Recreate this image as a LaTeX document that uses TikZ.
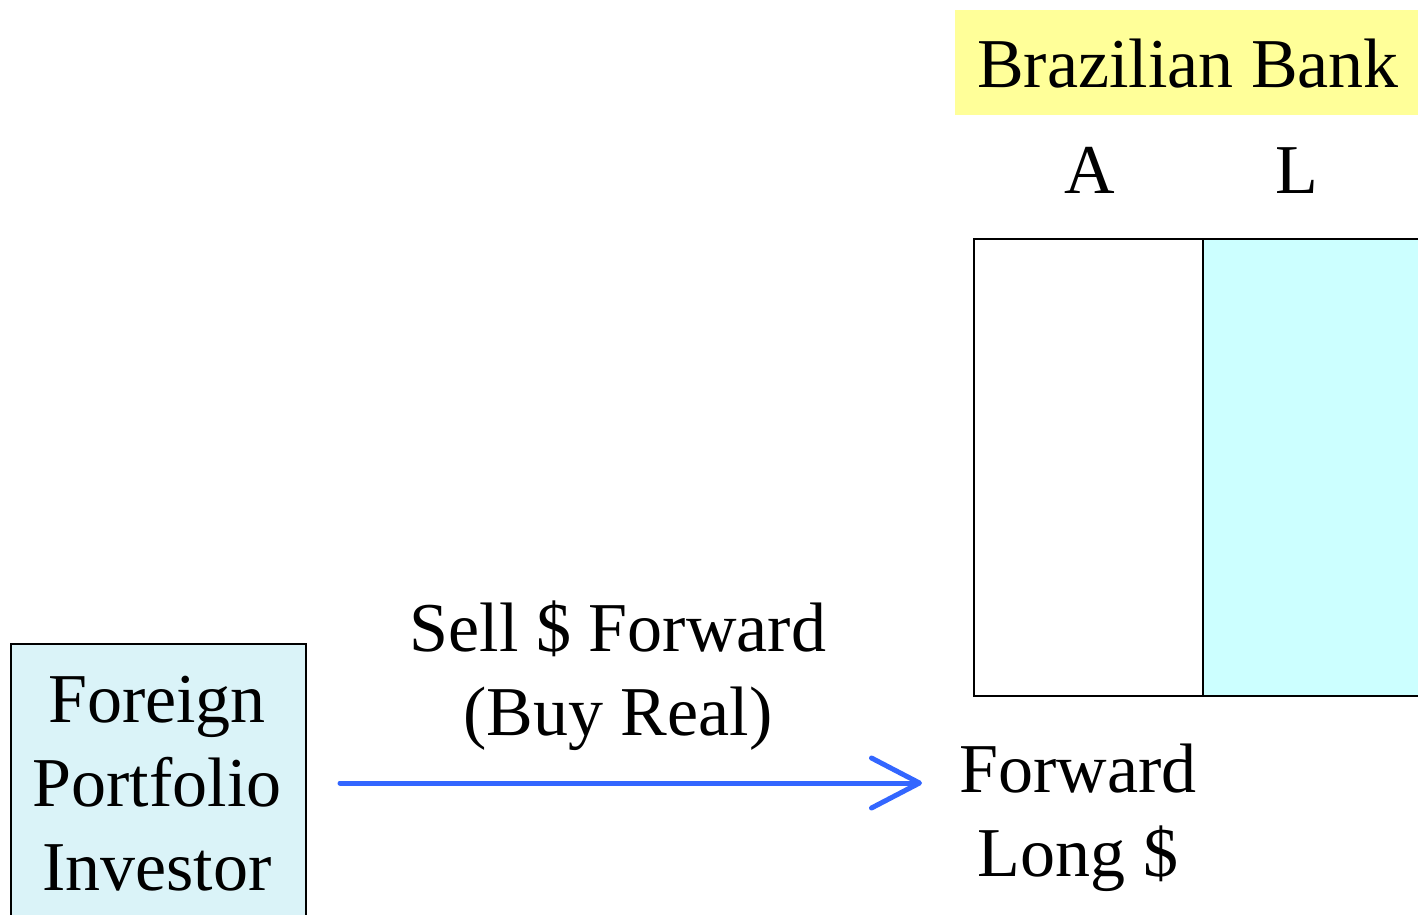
\documentclass[tikz,border=0pt]{standalone}
\usepackage{fontspec}
\setmainfont{Liberation Serif}
\usetikzlibrary{arrows.meta}
\definecolor{bankyellow}{HTML}{FFFF99}
\definecolor{liabcyan}{HTML}{CCFFFF}
\definecolor{investorfill}{HTML}{DAF3F8}
\definecolor{flowblue}{HTML}{3366FF}
\tikzset{
  big/.style={font=\fontsize{70}{84}\selectfont, inner sep=0pt, align=center},
  sheet/.style={draw=black, line width=2pt, rectangle, inner sep=0pt},
  flow/.style={draw=flowblue, line width=5pt, line cap=round,
    -{Straight Barb[length=48pt,width=50pt,line cap=round,line join=round]}},
}
\begin{document}
\begin{tikzpicture}[x=1pt,y=-1pt]
  \useasboundingbox (0,0) rectangle (1418,915);

  % bank title
  \fill[bankyellow] (955,10) rectangle (1418,115);
  \node[big, anchor=base] (banktitle) at (1188,88) {Brazilian Bank};

  % balance sheet columns
  \node[sheet, fill=white, minimum width=229pt, minimum height=457pt, anchor=north west] (assets) at (973,238) {};
  \node[sheet, fill=liabcyan, minimum width=240pt, minimum height=457pt, anchor=north west] (liabs) at (1202,238) {};
  \node[big, anchor=base] (acol) at (1090,193) {A};
  \node[big, anchor=base] (lcol) at (1297,193) {L};

  % investor (base anchor sits on the last line)
  \node[draw=black, line width=1.5pt, fill=investorfill, rectangle, inner sep=0pt,
        minimum width=295pt, minimum height=320pt, anchor=north west] (investorbox) at (10,643) {};
  \node[big, anchor=base] (investor) at (157,890) {Foreign\\Portfolio\\Investor};

  % forward contract
  \coordinate (flowstart) at (340,783);
  \coordinate (flowend) at (922,783);
  \draw[flow] (flowstart) -- (flowend);
  \node[big, anchor=base] (flowlabel) at (618,735) {Sell \$ Forward\\(Buy Real)};
  \node[big, anchor=base] (position) at (1078,876) {Forward\\Long \$};
\end{tikzpicture}
\end{document}
